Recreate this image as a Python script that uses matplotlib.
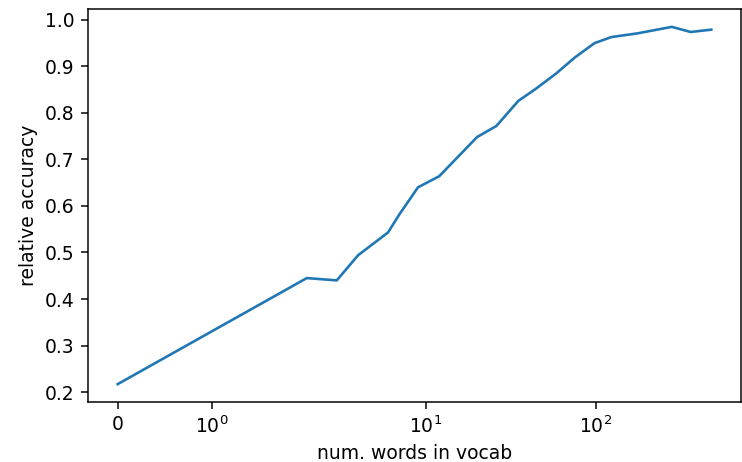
import matplotlib
matplotlib.use("Agg")
import matplotlib.pyplot as plt
from matplotlib.ticker import NullLocator

# ==============================================================
# Datos
# ==============================================================
vocab_sizes = [0, 2, 3, 4, 6, 7, 9, 12, 20, 26, 35, 44, 58, 75, 98, 123, 175, 279, 360, 476]
rel_accuracy = [0.217, 0.445, 0.440, 0.494, 0.543, 0.582, 0.640, 0.664, 0.748, 0.772,
                0.826, 0.851, 0.884, 0.919, 0.950, 0.963, 0.971, 0.985, 0.974, 0.979]
x_ticks = [0, 1, 10, 100]

# ==============================================================
# Figura (dpi alto para que texto y ticks queden como en la captura)
# ==============================================================
DPI = 135
W, H = 742, 462
fig = plt.figure(figsize=(W / DPI, H / DPI), dpi=DPI)
ax = fig.add_axes([88 / W, 60 / H, 653 / W, 393 / H])

ax.plot(vocab_sizes, rel_accuracy, color="#1f77b4", lw=1.4)

ax.set_xscale("symlog", linthresh=2)
ax.set_xticks(x_ticks)
ax.xaxis.set_minor_locator(NullLocator())

ax.set_xlabel("num. words in vocab")
ax.set_ylabel("relative accuracy")

fig.savefig("out.png", dpi=DPI)
